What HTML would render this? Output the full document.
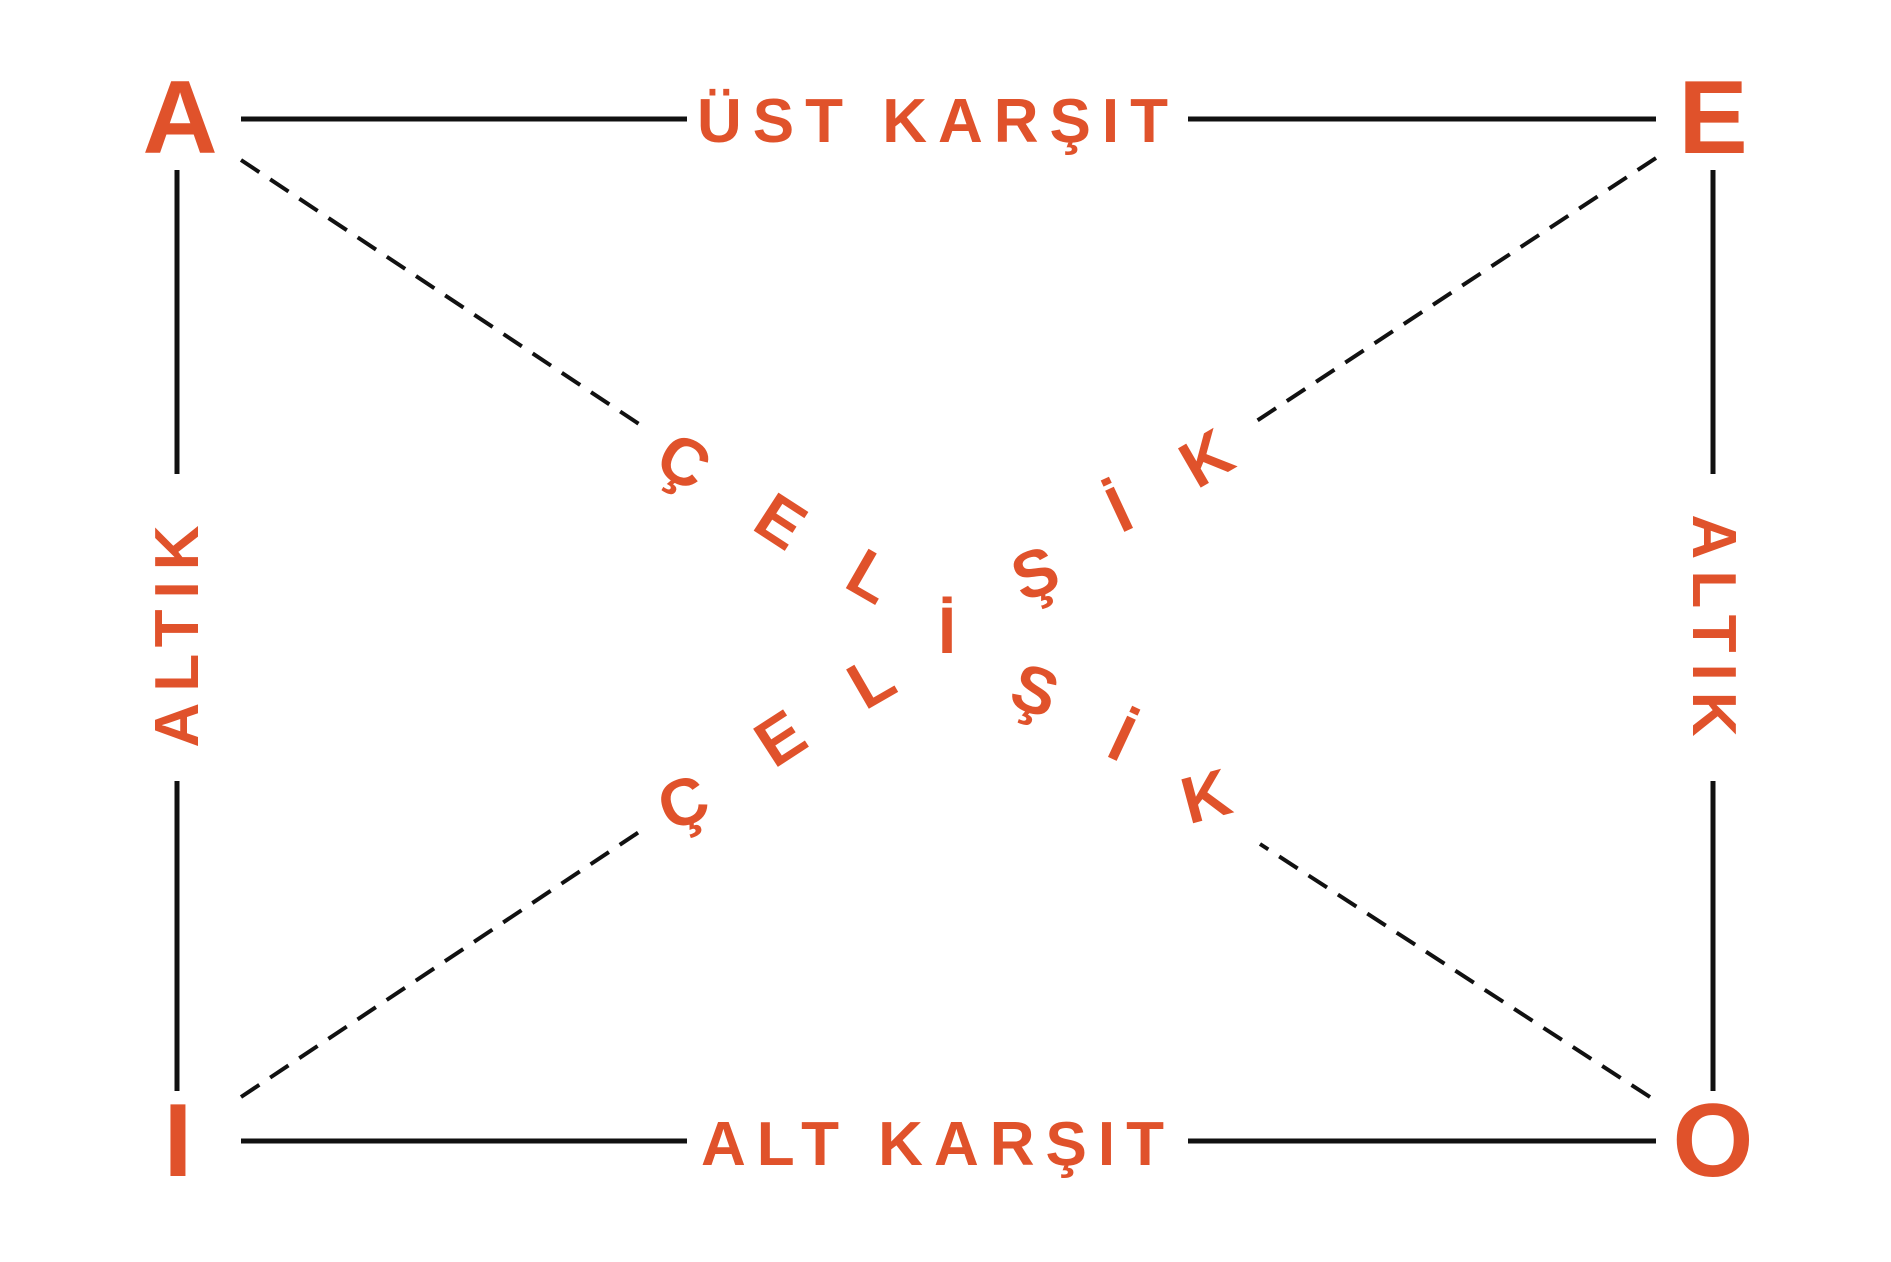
<!DOCTYPE html>
<html><head><meta charset="utf-8"><style>
html,body{margin:0;padding:0;background:#fff;}
svg{display:block;}
text{font-family:"Liberation Sans",sans-serif;font-weight:bold;fill:#E0522B;}
</style></head><body>
<svg width="1891" height="1262" viewBox="0 0 1891 1262">
<g stroke="#111" stroke-width="5" fill="none">
<line x1="241" y1="119" x2="687" y2="119"/>
<line x1="1188" y1="119" x2="1656" y2="119"/>
<line x1="241" y1="1141" x2="687" y2="1141"/>
<line x1="1188" y1="1141" x2="1656" y2="1141"/>
<line x1="177" y1="170" x2="177" y2="474"/>
<line x1="177" y1="781" x2="177" y2="1091"/>
<line x1="1713" y1="170" x2="1713" y2="474"/>
<line x1="1713" y1="781" x2="1713" y2="1091"/>
</g>
<g stroke="#111" stroke-width="4" stroke-dasharray="22,13" fill="none">
<line x1="241" y1="160" x2="639" y2="424"/>
<line x1="1656" y1="158" x2="1252" y2="424"/>
<line x1="241" y1="1097" x2="639" y2="832"/>
<line x1="1650" y1="1097" x2="1260" y2="844"/>
</g>
<text x="180" y="153" font-size="104" text-anchor="middle">A</text>
<text x="1713" y="153" font-size="104" text-anchor="middle">E</text>
<text x="178" y="1176" font-size="104" text-anchor="middle">I</text>
<text x="1713" y="1176" font-size="104" text-anchor="middle">O</text>
<text x="938" y="142" font-size="62" text-anchor="middle" letter-spacing="11">ÜST KARŞIT</text>
<text x="938" y="1165" font-size="62" text-anchor="middle" letter-spacing="11">ALT KARŞIT</text>
<text font-size="62" text-anchor="middle" letter-spacing="11" transform="translate(198,631) rotate(-90)">ALTIK</text>
<text font-size="62" text-anchor="middle" letter-spacing="11" transform="translate(1693,631) rotate(90)">ALTIK</text>
<g font-size="66" text-anchor="middle" dominant-baseline="central">
<text transform="translate(684,461) rotate(30)">Ç</text>
<text transform="translate(781,521) rotate(33)">E</text>
<text transform="translate(871,576) rotate(30)">L</text>
<text transform="translate(947,630)">İ</text>
<text transform="translate(1035,573) rotate(-20)">Ş</text>
<text transform="translate(1119,509) rotate(-25)">İ</text>
<text transform="translate(1206,458) rotate(-30)">K</text>
<text transform="translate(683,802) rotate(-20)">Ç</text>
<text transform="translate(780,738) rotate(-33)">E</text>
<text transform="translate(871,681) rotate(-30)">L</text>
<text transform="translate(1035,690) rotate(20)">Ş</text>
<text transform="translate(1122,738) rotate(25)">İ</text>
<text transform="translate(1206,796) rotate(-15)">K</text>
</g>
</svg>
</body></html>
